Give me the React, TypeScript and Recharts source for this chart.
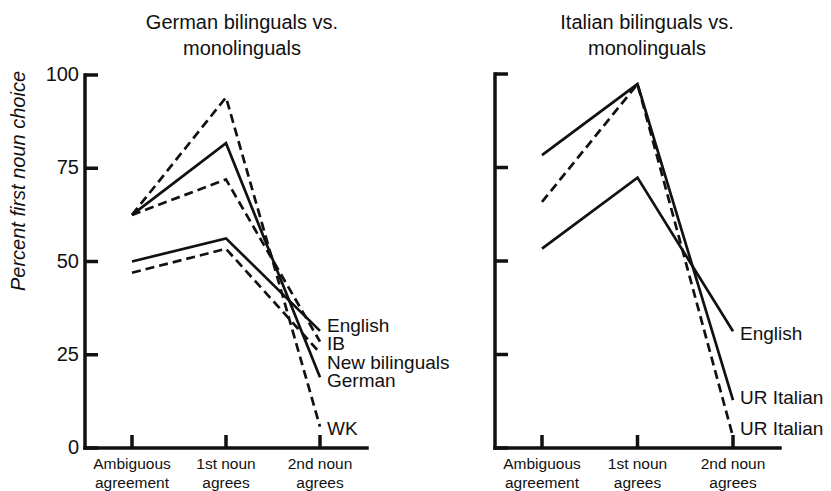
import React from 'react';
import { LineChart, Line, XAxis, YAxis } from 'recharts';

// ---------- data ----------
const categories = ['Ambiguous agreement', '1st noun agrees', '2nd noun agrees'];
const categoryLines = [
  ['Ambiguous', 'agreement'],
  ['1st noun', 'agrees'],
  ['2nd noun', 'agrees'],
];
const yTicks = [0, 25, 50, 75, 100];

const leftTitle = ['German bilinguals vs.', 'monolinguals'];
const rightTitle = ['Italian bilinguals vs.', 'monolinguals'];
const yLabel = 'Percent first noun choice';

// German bilinguals vs. monolinguals
const deEnglish = [50, 56.2, 31.4];
const deGerman = [62.5, 81.7, 19];
const deWK = [62.5, 94, 5.7];
const deIB = [62.5, 72, 28.5];
const deNewBilinguals = [47, 53.4, 25.5];

// Italian bilinguals vs. monolinguals
const itEnglish = [53.3, 72.3, 31.2];
const itURItalianSolid = [78.3, 97.3, 12.8];
const itURItalianDashed = [65.8, 97.3, 3];

type Series = { key: string; name: string; values: number[]; dashed: boolean; dy: number };

const leftSeries: Series[] = [
  { key: 'english', name: 'English', values: deEnglish, dashed: false, dy: -6 },
  { key: 'ib', name: 'IB', values: deIB, dashed: true, dy: 2 },
  { key: 'newbil', name: 'New bilinguals', values: deNewBilinguals, dashed: true, dy: 9 },
  { key: 'german', name: 'German', values: deGerman, dashed: false, dy: 3 },
  { key: 'wk', name: 'WK', values: deWK, dashed: true, dy: 2 },
];

const rightSeries: Series[] = [
  { key: 'english', name: 'English', values: itEnglish, dashed: false, dy: 2 },
  { key: 'urSolid', name: 'UR Italian', values: itURItalianSolid, dashed: false, dy: -3 },
  { key: 'urDashed', name: 'UR Italian', values: itURItalianDashed, dashed: true, dy: -8 },
];

const buildRows = (series: Series[]) =>
  categories.map((c, i) => {
    const row: Record<string, any> = { cat: c };
    series.forEach((s) => {
      row[s.key] = s.values[i];
    });
    return row;
  });

// ---------- styling ----------
const FONT = '"Liberation Sans", Arial, Helvetica, sans-serif';
const INK = '#111111';
const W = 831;
const H = 491;
const TICK_MARGIN = 6;

const YTick = (props: any) => {
  const { x, y, payload, showLabel } = props;
  const ax = x + TICK_MARGIN;
  return (
    <g>
      <line x1={ax} x2={ax + 13} y1={y} y2={y} stroke={INK} strokeWidth={3.5} />
      {showLabel && (
        <text
          x={ax - 6}
          y={y}
          dy="0.3em"
          textAnchor="end"
          fontSize={20}
          fontFamily={FONT}
          fill={INK}
        >
          {payload.value}
        </text>
      )}
    </g>
  );
};

const XTick = (props: any) => {
  const { x, y, payload } = props;
  const idx = categories.indexOf(payload.value);
  const lines = categoryLines[idx] || [String(payload.value)];
  return (
    <g>
      <line x1={x} x2={x} y1={y - 13} y2={y} stroke={INK} strokeWidth={3.5} />
      <text x={x} y={y + 21} textAnchor="middle" fontSize={15.5} fontFamily={FONT} fill={INK}>
        {lines[0]}
      </text>
      <text x={x} y={y + 40} textAnchor="middle" fontSize={15.5} fontFamily={FONT} fill={INK}>
        {lines[1]}
      </text>
    </g>
  );
};

const makeEndLabel = (text: string, dy: number) => (props: any) => {
  const { x, y, index } = props;
  if (index !== categories.length - 1) return <g />;
  return (
    <text
      x={x + 7}
      y={y + dy}
      dy="0.35em"
      textAnchor="start"
      fontSize={19}
      fontFamily={FONT}
      fill={INK}
    >
      {text}
    </text>
  );
};

const axisLineStyle = { stroke: INK, strokeWidth: 3.5, strokeLinecap: 'square' as const };

type PanelProps = {
  series: Series[];
  top: number;
  yAxisWidth: number;
  right: number;
  showYLabels: boolean;
};

const Panel = ({ series, top, yAxisWidth, right, showYLabels }: PanelProps) => (
  <LineChart
    width={W}
    height={H}
    data={buildRows(series)}
    margin={{ top, right, bottom: 0, left: 0 }}
    style={{ position: 'absolute', left: 0, top: 0 }}
  >
    <XAxis
      dataKey="cat"
      type="category"
      height={H - 448}
      padding={{ left: 47, right: 47 }}
      axisLine={axisLineStyle}
      tickLine={false}
      tickSize={0}
      tickMargin={0}
      interval={0}
      tick={(p: any) => <XTick {...p} />}
    />
    <YAxis
      type="number"
      domain={[0, 100]}
      ticks={yTicks}
      interval={0}
      width={yAxisWidth}
      axisLine={axisLineStyle}
      tickLine={false}
      tickSize={0}
      tickMargin={TICK_MARGIN}
      tick={(p: any) => <YTick {...p} showLabel={showYLabels} />}
    />
    {series.map((s) => (
      <Line
        key={s.key}
        type="linear"
        dataKey={s.key}
        stroke={INK}
        strokeWidth={2.7}
        strokeDasharray={s.dashed ? '9 5' : undefined}
        dot={false}
        activeDot={false}
        isAnimationActive={false}
        label={makeEndLabel(s.name, s.dy)}
      />
    ))}
  </LineChart>
);

export default function App() {
  return (
    <div
      style={{
        position: 'absolute',
        left: 0,
        top: 0,
        width: W,
        height: H,
        background: '#ffffff',
        overflow: 'hidden',
      }}
    >
      <Panel series={leftSeries} top={75} yAxisWidth={85} right={W - 367} showYLabels />
      <Panel series={rightSeries} top={74} yAxisWidth={495} right={W - 780} showYLabels={false} />
      <svg
        width={W}
        height={H}
        style={{ position: 'absolute', left: 0, top: 0, pointerEvents: 'none' }}
      >
        <text x={242} y={29} textAnchor="middle" fontSize={20} fontFamily={FONT} fill={INK}>
          {leftTitle[0]}
        </text>
        <text x={242} y={55} textAnchor="middle" fontSize={20} fontFamily={FONT} fill={INK}>
          {leftTitle[1]}
        </text>
        <text x={647} y={29} textAnchor="middle" fontSize={20} fontFamily={FONT} fill={INK}>
          {rightTitle[0]}
        </text>
        <text x={647} y={55} textAnchor="middle" fontSize={20} fontFamily={FONT} fill={INK}>
          {rightTitle[1]}
        </text>
        <text
          x={25}
          y={181}
          transform="rotate(-90 25 181)"
          textAnchor="middle"
          fontSize={20}
          fontStyle="italic"
          fontFamily={FONT}
          fill={INK}
        >
          {yLabel}
        </text>
      </svg>
    </div>
  );
}
